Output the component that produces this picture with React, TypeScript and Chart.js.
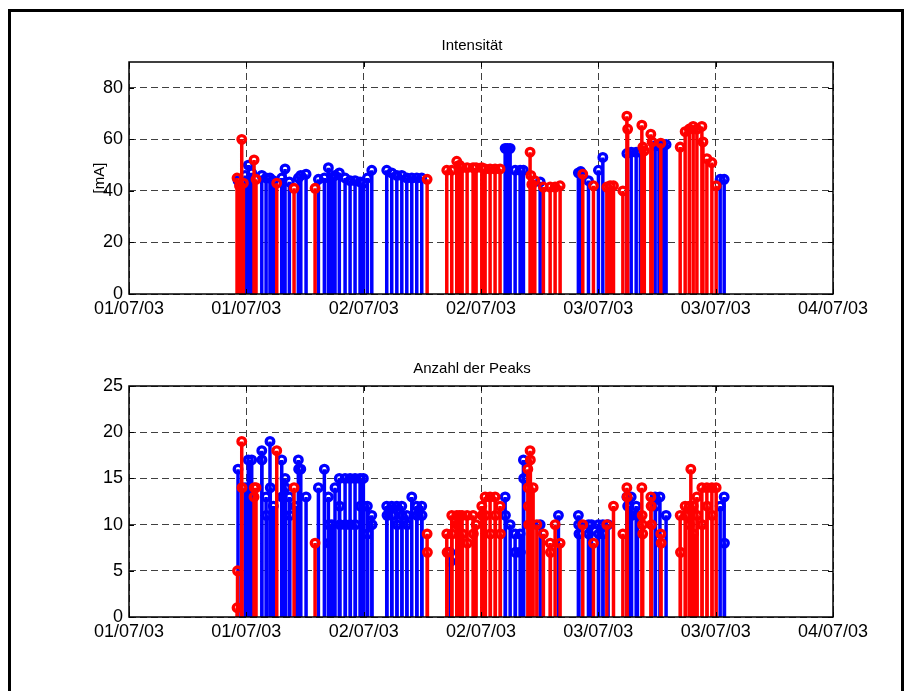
import React, { useEffect, useRef } from 'react';
import { Chart, registerables } from 'chart.js';

Chart.register(...registerables);

// Time axis: hours since 01/07/03 00:00
const xTickHours = [0, 12, 24, 36, 48, 60, 72];
const xTickLabels = ['01/07/03', '01/07/03', '02/07/03', '02/07/03', '03/07/03', '03/07/03', '04/07/03'];

const titleTop = 'Intensität';
const titleBottom = 'Anzahl der Peaks';
const yLabelTop = '[mA]';

// [hour, value]
const intensityBlue: [number, number][] = [
  [11.15, 44], [11.87, 46], [12.2, 50], [12.55, 47], [13.58, 46], [14.02, 45], [14.42, 45], [14.76, 44],
  [15.62, 45], [15.96, 48.5], [16.4, 43.5], [17.32, 45], [17.57, 46], [18.11, 46.5], [19.37, 44.5],
  [19.98, 45], [20.39, 49], [20.74, 45], [21.07, 46], [21.51, 47], [22.1, 45], [22.61, 44], [23.12, 44],
  [23.63, 43.5], [23.97, 43], [24.38, 45], [24.83, 48], [26.36, 48], [26.87, 47], [27.39, 46], [27.9, 46],
  [28.41, 45], [28.92, 45], [29.43, 45], [29.94, 45], [38.47, 56.5], [38.7, 56.5], [38.98, 56.5],
  [39.49, 48], [40.0, 48], [40.34, 48], [42.05, 43.5], [45.96, 47], [46.2, 47.5], [46.99, 44],
  [48.01, 48], [48.46, 53], [50.92, 54.5], [51.36, 55], [51.87, 55], [52.3, 55], [53.81, 57.5],
  [54.2, 57.5], [54.6, 58], [54.93, 58], [60.46, 44.5], [60.87, 44.5],
];

const intensityRed: [number, number][] = [
  [11.05, 45], [11.3, 42], [11.53, 60], [11.7, 43], [12.79, 52], [12.99, 44.5], [15.11, 43], [16.88, 41],
  [19.03, 41], [30.49, 44.5], [32.5, 48], [33.01, 48], [33.52, 51.5], [33.8, 50], [34.07, 49], [34.58, 49],
  [35.19, 49], [35.5, 49], [36.08, 49], [36.42, 48.5], [36.93, 48.5], [37.44, 48.5], [37.95, 48.5],
  [41.02, 55], [41.1, 46], [41.2, 42.5], [41.5, 44], [42.38, 41.5], [43.07, 41.5], [43.58, 41.5],
  [44.09, 42], [46.41, 46.5], [47.5, 42], [48.87, 41.5], [49.21, 42], [49.55, 42], [50.51, 40],
  [50.92, 69], [51.0, 64], [52.45, 65.5], [52.55, 57], [52.7, 55.5], [53.37, 62], [53.5, 59],
  [54.39, 58.5], [56.37, 57], [56.88, 63], [57.3, 64], [57.7, 65], [58.08, 64], [58.59, 65],
  [58.7, 59], [59.1, 52.5], [59.61, 51], [60.05, 42],
];

const peaksBlue: [number, number][] = [
  [11.15, 16], [11.87, 14], [12.2, 17], [12.55, 17], [13.58, 18], [13.6, 17], [14.02, 13], [14.05, 11],
  [14.42, 19], [14.45, 14], [14.76, 12], [15.62, 17], [15.65, 13], [15.96, 15], [16.0, 14], [16.4, 13],
  [16.45, 11], [17.0, 12], [17.32, 17], [17.35, 16], [17.57, 16], [18.11, 13], [19.37, 14], [19.98, 16],
  [20.39, 13], [20.42, 10], [20.45, 8], [20.74, 10], [21.07, 14], [21.51, 15], [21.55, 12], [21.58, 10],
  [22.1, 15], [22.13, 10], [22.61, 15], [22.64, 10], [23.12, 15], [23.15, 10], [23.63, 15], [23.66, 12],
  [23.97, 15], [24.0, 12], [24.38, 12], [24.41, 9], [24.83, 11], [24.86, 10], [26.36, 12], [26.39, 11],
  [26.87, 12], [26.9, 11], [27.39, 12], [27.42, 10], [27.9, 12], [27.93, 11], [28.41, 11], [28.44, 10],
  [28.92, 13], [29.43, 12], [29.46, 11], [29.94, 12], [29.97, 11], [32.84, 7], [32.87, 6],
  [38.47, 13], [38.5, 11], [38.98, 10], [39.49, 9], [39.52, 7], [40.0, 9], [40.03, 7], [40.34, 17],
  [40.37, 15], [42.05, 10], [43.92, 11], [45.96, 11], [45.99, 10], [46.02, 9], [46.99, 10], [47.02, 9],
  [47.3, 10], [48.01, 10], [48.04, 9], [48.46, 10], [48.49, 9], [49.0, 10], [50.92, 13], [51.0, 12],
  [51.36, 13], [51.4, 11], [51.87, 12], [52.0, 11], [53.81, 13], [53.84, 12], [54.3, 13], [54.93, 11],
  [60.46, 12], [60.87, 13], [60.9, 8],
];

const peaksRed: [number, number][] = [
  [11.05, 1], [11.1, 5], [11.53, 19], [11.56, 14], [12.79, 13], [12.82, 14], [12.99, 14], [15.11, 18],
  [16.88, 14], [19.03, 8], [30.49, 9], [30.52, 7], [32.5, 9], [32.53, 7], [33.01, 11], [33.04, 9],
  [33.52, 11], [33.55, 10], [33.8, 11], [34.07, 11], [34.1, 9], [34.58, 11], [34.61, 8], [35.19, 11],
  [35.22, 9], [35.5, 10], [36.08, 12], [36.11, 11], [36.42, 13], [36.45, 11], [36.93, 13], [36.96, 9],
  [37.44, 13], [37.47, 11], [37.95, 12], [37.98, 9], [40.79, 16], [40.82, 14], [40.85, 12], [40.88, 10],
  [41.02, 18], [41.05, 17], [41.33, 14], [41.71, 10], [42.38, 9], [43.07, 8], [43.1, 7], [43.58, 10],
  [44.09, 8], [46.41, 10], [47.5, 8], [48.87, 10], [49.55, 12], [50.51, 9], [50.92, 14], [50.95, 13],
  [52.45, 14], [52.48, 11], [52.51, 10], [52.54, 9], [53.37, 13], [53.4, 12], [53.43, 10], [54.39, 9],
  [54.42, 8], [56.37, 11], [56.4, 7], [56.88, 12], [56.91, 11], [57.3, 12], [57.33, 10], [57.46, 16],
  [57.7, 12], [57.73, 9], [58.08, 13], [58.11, 11], [58.59, 14], [58.62, 10], [59.1, 14], [59.13, 12],
  [59.61, 14], [59.64, 11], [60.05, 14],
];

const FONT = "'Liberation Sans', Arial, Helvetica, sans-serif";
const BLUE = '#0000ff';
const RED = '#ff0000';

function stemLine(series: [number, number][]) {
  const d: { x: number; y: number | null }[] = [];
  series.forEach(([t, v]) => {
    d.push({ x: t, y: 0 }, { x: t, y: v }, { x: t, y: null });
  });
  return d;
}
function stemHeads(series: [number, number][]) {
  return series.map(([t, v]) => ({ x: t, y: v }));
}

const boxPlugin = {
  id: 'matlabBox',
  afterDraw(chart: any) {
    const { ctx, chartArea: a, scales } = chart;
    const xs = scales.x;
    const ys = scales.y;
    const L = 5;
    ctx.save();
    ctx.strokeStyle = '#000';
    ctx.lineWidth = 1;
    ctx.beginPath();
    xs.ticks.forEach((t: any) => {
      const px = Math.round(xs.getPixelForValue(t.value)) + 0.5;
      ctx.moveTo(px, a.bottom);
      ctx.lineTo(px, a.bottom - L);
      ctx.moveTo(px, a.top);
      ctx.lineTo(px, a.top + L);
    });
    ys.ticks.forEach((t: any) => {
      const py = Math.round(ys.getPixelForValue(t.value)) + 0.5;
      ctx.moveTo(a.left, py);
      ctx.lineTo(a.left + L, py);
      ctx.moveTo(a.right, py);
      ctx.lineTo(a.right - L, py);
    });
    ctx.stroke();
    ctx.lineWidth = 1.5;
    ctx.strokeRect(a.left, a.top, a.right - a.left, a.bottom - a.top);
    ctx.restore();
  },
};

type Cfg = {
  padTop: number;
  xAxisHeight: number;
  yMax: number;
  yStep: number;
  yTitle?: string;
  blue: [number, number][];
  red: [number, number][];
};

function makeConfig(c: Cfg): any {
  const stemCommon = {
    type: 'line',
    pointRadius: 0,
    pointHoverRadius: 0,
    borderWidth: 3.5,
    spanGaps: false,
    fill: false,
    tension: 0,
    borderCapStyle: 'butt',
  };
  const headCommon = {
    type: 'line',
    showLine: false,
    pointStyle: 'circle',
    pointRadius: 3.8,
    pointHoverRadius: 3.8,
    pointBorderWidth: 3.3,
    pointBackgroundColor: 'rgba(0,0,0,0)',
    clip: false,
  };
  return {
    type: 'line',
    data: {
      datasets: [
        { ...headCommon, data: stemHeads(c.red), borderColor: RED, pointBorderColor: RED },
        { ...stemCommon, data: stemLine(c.red), borderColor: RED },
        { ...headCommon, data: stemHeads(c.blue), borderColor: BLUE, pointBorderColor: BLUE },
        { ...stemCommon, data: stemLine(c.blue), borderColor: BLUE },
      ],
    },
    options: {
      responsive: false,
      animation: false,
      events: [],
      layout: { padding: { left: 0, right: 76, top: c.padTop, bottom: 0 } },
      plugins: {
        legend: { display: false },
        tooltip: { enabled: false },
        title: { display: false },
      },
      scales: {
        x: {
          type: 'linear',
          min: 0,
          max: 72,
          afterBuildTicks: (s: any) => {
            s.ticks = xTickHours.map((v) => ({ value: v }));
          },
          afterFit: (s: any) => {
            s.height = c.xAxisHeight;
          },
          ticks: {
            color: '#000',
            font: { family: FONT, size: 18 },
            padding: 4,
            maxRotation: 0,
            autoSkip: false,
            callback: (v: number) => xTickLabels[xTickHours.indexOf(v)] ?? '',
          },
          grid: { color: 'rgba(0,0,0,0.75)', lineWidth: 1, drawTicks: false },
          border: { display: false, dash: [7, 4] },
        },
        y: {
          type: 'linear',
          min: 0,
          max: c.yMax,
          afterFit: (s: any) => {
            s.width = 129;
          },
          ticks: {
            stepSize: c.yStep,
            includeBounds: false,
            color: '#000',
            font: { family: FONT, size: 18 },
            padding: 6,
          },
          grid: { color: 'rgba(0,0,0,0.75)', lineWidth: 1, drawTicks: false },
          border: { display: false, dash: [7, 4] },
          title: c.yTitle
            ? {
                display: true,
                text: c.yTitle,
                color: '#000',
                font: { family: FONT, size: 15, lineHeight: 1.2 },
                padding: { top: 91, bottom: 0 },
              }
            : { display: false },
        },
      },
    },
    plugins: [boxPlugin],
  };
}

function ChartCanvas({ cfg, top, height }: { cfg: Cfg; top: number; height: number }) {
  const ref = useRef<HTMLCanvasElement | null>(null);
  useEffect(() => {
    if (!ref.current) return;
    const chart = new Chart(ref.current, makeConfig(cfg));
    return () => chart.destroy();
  }, []);
  return (
    <canvas
      ref={ref}
      width={909}
      height={height}
      style={{ position: 'absolute', left: 0, top, width: 909, height, display: 'block' }}
    />
  );
}

const titleStyle = (top: number): React.CSSProperties => ({
  position: 'absolute',
  left: 272,
  width: 400,
  top,
  height: 18,
  lineHeight: '18px',
  textAlign: 'center',
  fontFamily: FONT,
  fontSize: 15,
  color: '#000',
  whiteSpace: 'nowrap',
});

export default function App() {
  return (
    <div style={{ position: 'absolute', left: 0, top: 0, width: 909, height: 691, background: '#fff', overflow: 'hidden' }}>
      <div
        style={{
          position: 'absolute',
          left: 8,
          top: 9,
          width: 896,
          height: 720,
          border: '3px solid #000',
          boxSizing: 'border-box',
        }}
      />
      <ChartCanvas
        top={0}
        height={340}
        cfg={{
          padTop: 62,
          xAxisHeight: 46,
          yMax: 90,
          yStep: 20,
          yTitle: yLabelTop,
          blue: intensityBlue,
          red: intensityRed,
        }}
      />
      <ChartCanvas
        top={340}
        height={351}
        cfg={{
          padTop: 46,
          xAxisHeight: 74,
          yMax: 25,
          yStep: 5,
          blue: peaksBlue,
          red: peaksRed,
        }}
      />
      <div style={titleStyle(36)}>{titleTop}</div>
      <div style={titleStyle(359)}>{titleBottom}</div>
    </div>
  );
}
